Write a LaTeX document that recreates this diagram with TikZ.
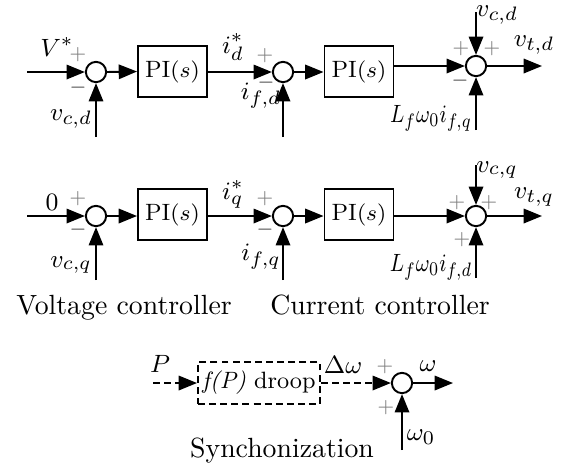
\documentclass[tikz,border=0pt]{standalone}
\usetikzlibrary{arrows.meta}
\begin{document}
\begin{tikzpicture}[x=0.36pt,y=-0.36pt,
  lw/.style={line width=0.7pt},
  arr/.style={lw,-{Triangle[length=6.6pt,width=5.2pt]}},
  sumnode/.style={circle,draw,lw,minimum size=7.3pt,inner sep=0pt},
  pibox/.style={rectangle,draw,lw,minimum width=24.84pt,minimum height=18.36pt,inner sep=0pt,font=\fontsize{8.5}{10}\selectfont},
  lab/.style={inner sep=0pt,font=\fontsize{9.5}{11}\selectfont},
  captext/.style={inner sep=0pt,anchor=base,font=\fontsize{10}{12}\selectfont},
  plus/.style={inner sep=0pt,text=black!50,font=\fontsize{7.5}{9}\selectfont},
  minus/.style={inner sep=0pt,text=black!75,font=\fontsize{7.5}{9}\selectfont},
  dsh/.style={dash pattern=on 2.5pt off 1.5pt}
]
\useasboundingbox (0,0) rectangle (562,470);

% ---------- Row 1 (d axis) ----------
\coordinate (in1) at (27,72);
\node[sumnode] (s1a) at (96,72) {};
\coordinate (fb1a) at (96,137);
\node[pibox] (pi1a) at (172.5,71.5) {PI$(s)$};
\node[sumnode] (s2a) at (283,72) {};
\coordinate (fb2a) at (283,137);
\node[pibox] (pi2a) at (359,71.5) {PI$(s)$};
\node[sumnode] (s3a) at (476,66) {};
\coordinate (top3a) at (476,12);
\coordinate (bot3a) at (476,130);
\coordinate (out3a) at (542,66);

\draw[arr] (in1) -- (s1a.west);
\draw[arr] (fb1a) -- (s1a.south);
\draw[arr] (s1a.east) -- (pi1a.west);
\draw[arr] (pi1a.east |- s2a) -- (s2a.west);
\draw[arr] (fb2a) -- (s2a.south);
\draw[arr] (s2a.east) -- (pi2a.west |- s2a);
\draw[arr] (pi2a.east |- s3a) -- (s3a.west);
\draw[arr] (top3a) -- (s3a.north);
\draw[arr] (bot3a) -- (s3a.south);
\draw[arr] (s3a.east) -- (out3a);

\node[lab] (l1) at (57,47) {$V^{*}$};
\node[plus] (p1) at (78,55) {$+$};
\node[minus] (m1) at (78,88) {$-$};
\node[lab] (l2) at (71,119) {$v_{c,d}$};
\node[lab] (l3) at (233,47) {$i_d^{*}$};
\node[plus] (p2) at (265,56) {$+$};
\node[minus] (m2) at (266,83) {$-$};
\node[lab] (l4) at (261,96) {$i_{f,d}$};
\node[lab] (l5) at (497,15) {$v_{c,d}$};
\node[plus] (p3) at (461,49) {$+$};
\node[plus] (p4) at (492,49) {$+$};
\node[minus] (m3) at (460,81) {$-$};
\node[lab] (l6) at (431,118) {\scalebox{0.82}[1]{$L_f\omega_0 i_{f,q}$}};
\node[lab] (l7) at (534,45) {$v_{t,d}$};

% ---------- Row 2 (q axis) ----------
\coordinate (in2) at (27,216);
\node[sumnode] (s1b) at (96,216) {};
\coordinate (fb1b) at (96,280);
\node[pibox] (pi1b) at (172.5,214.5) {PI$(s)$};
\node[sumnode] (s2b) at (283,216) {};
\coordinate (fb2b) at (283,280);
\node[pibox] (pi2b) at (359,214.5) {PI$(s)$};
\node[sumnode] (s3b) at (476,216) {};
\coordinate (top3b) at (476,165);
\coordinate (bot3b) at (476,278);
\coordinate (out3b) at (542,216);

\draw[arr] (in2) -- (s1b.west);
\draw[arr] (fb1b) -- (s1b.south);
\draw[arr] (s1b.east) -- (pi1b.west |- s1b);
\draw[arr] (pi1b.east |- s2b) -- (s2b.west);
\draw[arr] (fb2b) -- (s2b.south);
\draw[arr] (s2b.east) -- (pi2b.west |- s2b);
\draw[arr] (pi2b.east |- s3b) -- (s3b.west);
\draw[arr] (top3b) -- (s3b.north);
\draw[arr] (bot3b) -- (s3b.south);
\draw[arr] (s3b.east) -- (out3b);

\node[lab] (k1) at (52,202) {$0$};
\node[plus] (q1) at (78,199) {$+$};
\node[minus] (n1) at (78,230) {$-$};
\node[lab] (k2) at (71,265) {$v_{c,q}$};
\node[lab] (k3) at (233,194) {$i_q^{*}$};
\node[plus] (q2) at (265,199) {$+$};
\node[minus] (n2) at (265,230) {$-$};
\node[lab] (k4) at (261,257) {$i_{f,q}$};
\node[lab] (k5) at (497,170) {$v_{c,q}$};
\node[plus] (q3) at (457,203) {$+$};
\node[plus] (q4) at (489,203) {$+$};
\node[plus] (q5) at (462,240) {$+$};
\node[lab] (k6) at (431,267) {\scalebox{0.82}[1]{$L_f\omega_0 i_{f,d}$}};
\node[lab] (k7) at (534,197) {$v_{t,q}$};

% ---------- Captions ----------
\node[captext] (c1) at (124,314) {Voltage controller};
\node[captext] (c2) at (380,314) {Current controller};

% ---------- Synchronization ----------
\coordinate (pin) at (153,383);
\node[rectangle,draw,lw,dsh,minimum width=43.92pt,minimum height=15.12pt,inner sep=0pt,font=\fontsize{8.5}{10}\selectfont] (droop) at (259,383) {\textit{f(P)} droop};
\node[sumnode] (ss) at (402,383) {};
\coordinate (wout) at (453,383);
\coordinate (w0in) at (402,450);

\draw[arr,dsh] (pin) -- (droop.west);
\draw[arr,dsh] (droop.east) -- (ss.west);
\draw[arr] (ss.east) -- (wout);
\draw[arr] (w0in) -- (ss.south);

\node[lab] (r1) at (160,364) {$P$};
\node[lab] (r2) at (343,365) {$\Delta\omega$};
\node[plus] (r3) at (385,367) {$+$};
\node[plus] (r4) at (386,408) {$+$};
\node[lab] (r5) at (428,366) {$\omega$};
\node[lab] (r6) at (421,437) {$\omega_0$};
\node[captext] (c3) at (282,457) {Synchonization};
\end{tikzpicture}
\end{document}
